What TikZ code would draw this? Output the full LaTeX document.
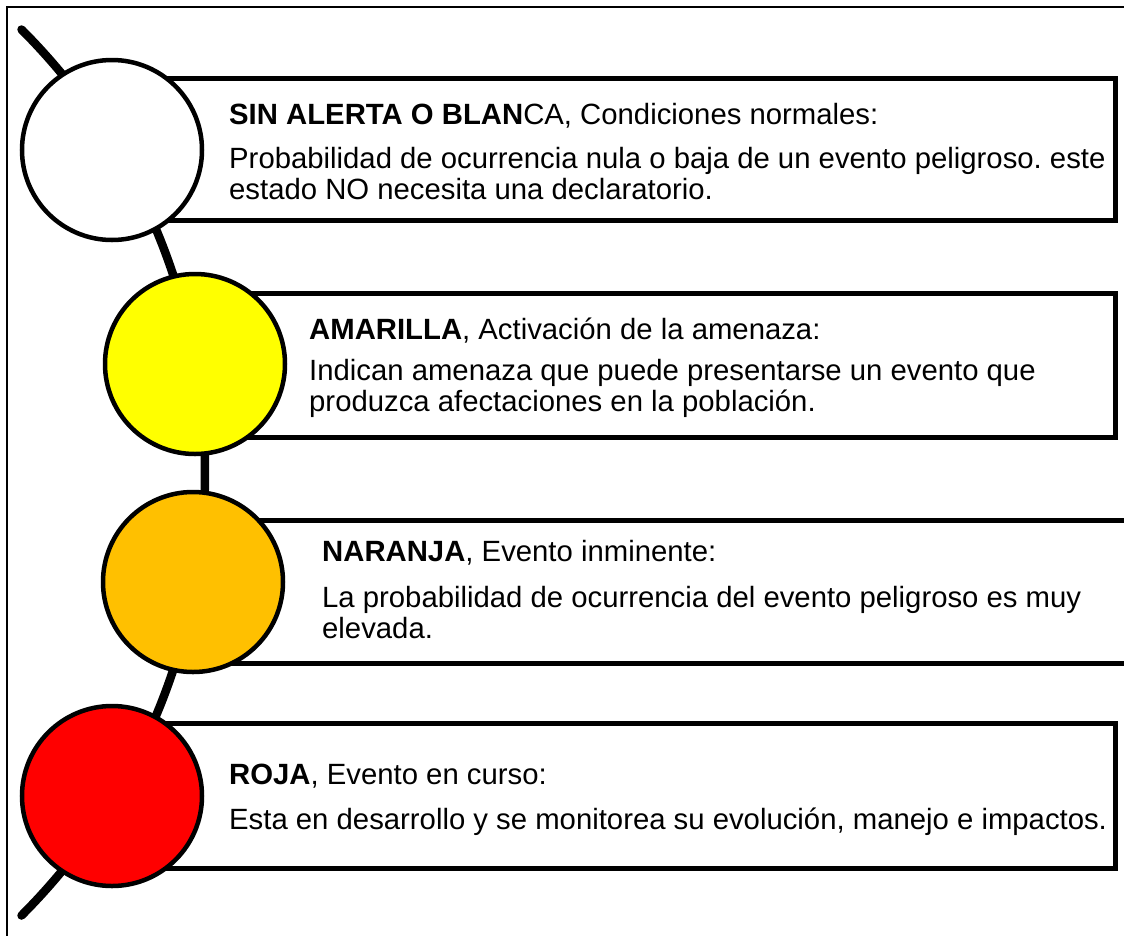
\documentclass[tikz,border=0pt]{standalone}
\usepackage{fontspec}
\setmainfont{Liberation Sans}
\frenchspacing
\definecolor{amber}{HTML}{FFC000}
\definecolor{lemon}{HTML}{FFFF00}

\begin{document}
\begin{tikzpicture}[x=1pt,y=-1pt,
    light/.style={circle,draw,line width=4.5pt,minimum size=180pt,inner sep=0pt},
    panel/.style={rectangle,draw,fill=white,line width=5pt,inner sep=0pt,
      outer sep=0pt,anchor=north west},
    txt/.style={anchor=base west,align=left,inner sep=0pt,
      font=\fontsize{29.3}{30.5}\selectfont}]
  \useasboundingbox (0,0) rectangle (1124,935);
  \clip (0,0) rectangle (1124,935);
  \draw[line width=1.5pt] (7,7) rectangle (1140,950);
  % the rail behind the lights
  \draw[line width=8.5pt,line cap=round] (21.5,29.5)
    arc[start angle=-45,end angle=45,radius=626.5];
  % panels
  \node[panel,minimum width=1003pt,minimum height=142pt] (b1) at (112,78) {};
  \node[panel,minimum width=920pt,minimum height=144pt] (b2) at (195,293) {};
  \node[panel,minimum width=960pt,minimum height=143pt] (b3) at (193,520) {};
  \node[panel,minimum width=1003pt,minimum height=145pt] (b4) at (112,723) {};
  % lights
  \node[light,fill=white] (c1) at (112,150) {};
  \node[light,fill=lemon] (c2) at (195,364) {};
  \node[light,fill=amber] (c3) at (193,582) {};
  \node[light,fill=red] (c4) at (112,796) {};
  % texts (base of a two-line node = its last line)
  \node[txt] (t1) at (229,124) {\textbf{SIN ALERTA O BLAN}CA, Condiciones normales:};
  \node[txt] (d1) at (229,199) {Probabilidad de ocurrencia nula o baja de un evento peligroso. este\\
    estado NO necesita una declaratorio.};
  \node[txt] (t2) at (309,339) {\textbf{AMARILLA}, Activación de la amenaza:};
  \node[txt] (d2) at (309,411) {Indican amenaza que puede presentarse un evento que\\
    produzca afectaciones en la población.};
  \node[txt] (t3) at (322,561) {\textbf{NARANJA}, Evento inminente:};
  \node[txt] (d3) at (322,638) {La probabilidad de ocurrencia del evento peligroso es muy\\
    elevada.};
  \node[txt] (t4) at (229,784) {\textbf{ROJA}, Evento en curso:};
  \node[txt] (d4) at (229,829) {Esta en desarrollo y se monitorea su evolución, manejo e impactos.};
\end{tikzpicture}
\end{document}
